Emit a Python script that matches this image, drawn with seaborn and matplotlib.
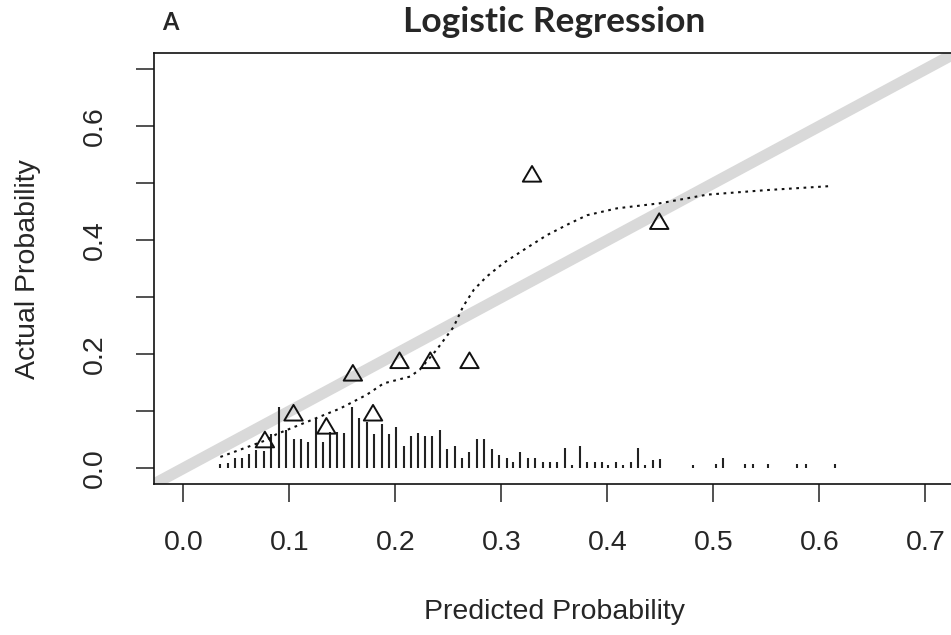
import matplotlib
matplotlib.use("Agg")
import matplotlib.pyplot as plt
import seaborn as sns
import pandas as pd
from matplotlib.path import Path

# grouped calibration points (triangles)
grp_pred = [0.077, 0.104, 0.135, 0.160, 0.179, 0.204, 0.233, 0.270, 0.329, 0.449]
grp_obs = [0.046, 0.093, 0.070, 0.163, 0.093, 0.185, 0.185, 0.185, 0.512, 0.429]

# smoothed calibration curve (dotted)
curve_pred = [0.035, 0.079, 0.088, 0.148, 0.173, 0.189, 0.214, 0.223, 0.239, 0.255,
              0.264, 0.274, 0.286, 0.302, 0.321, 0.343, 0.365, 0.381, 0.409, 0.450,
              0.494, 0.550, 0.610]
curve_obs = [0.020, 0.050, 0.060, 0.105, 0.129, 0.149, 0.161, 0.173, 0.208, 0.248,
             0.284, 0.313, 0.336, 0.360, 0.383, 0.409, 0.430, 0.444, 0.456, 0.465,
             0.480, 0.488, 0.495]

# spike histogram of predicted probabilities
spike_x = [0.035, 0.042, 0.049, 0.055, 0.062, 0.069, 0.076, 0.083, 0.090, 0.097,
           0.104, 0.111, 0.118, 0.125, 0.132, 0.138, 0.145, 0.152, 0.159, 0.166,
           0.173, 0.180, 0.187, 0.194, 0.201, 0.208, 0.215, 0.221, 0.228, 0.235,
           0.242, 0.249, 0.256, 0.263, 0.270, 0.277, 0.284, 0.291, 0.298, 0.305,
           0.311, 0.318, 0.325, 0.332, 0.339, 0.346, 0.353, 0.360, 0.367, 0.374,
           0.381, 0.388, 0.395, 0.401, 0.408, 0.415, 0.422, 0.429, 0.436, 0.443,
           0.450, 0.481, 0.503, 0.509, 0.530, 0.537, 0.552, 0.579, 0.587, 0.615]
spike_h = [0.007, 0.009, 0.018, 0.019, 0.025, 0.033, 0.030, 0.060, 0.107, 0.067,
           0.052, 0.052, 0.046, 0.089, 0.046, 0.063, 0.063, 0.062, 0.107, 0.089,
           0.082, 0.061, 0.077, 0.061, 0.072, 0.040, 0.056, 0.062, 0.056, 0.056,
           0.068, 0.034, 0.040, 0.018, 0.029, 0.051, 0.052, 0.034, 0.024, 0.018,
           0.012, 0.029, 0.018, 0.018, 0.012, 0.012, 0.012, 0.035, 0.006, 0.040,
           0.012, 0.012, 0.012, 0.006, 0.012, 0.006, 0.012, 0.035, 0.006, 0.015,
           0.017, 0.006, 0.008, 0.019, 0.008, 0.008, 0.008, 0.008, 0.008, 0.008]

x_ticks = [0.0, 0.1, 0.2, 0.3, 0.4, 0.5, 0.6, 0.7]
x_labels = ["0.0", "0.1", "0.2", "0.3", "0.4", "0.5", "0.6", "0.7"]
y_ticks = [0.0, 0.1, 0.2, 0.3, 0.4, 0.5, 0.6, 0.7]
y_labels = ["0.0", "", "0.2", "", "0.4", "", "0.6", ""]

sns.set_style("white")
plt.rcParams['font.family'] = ['Liberation Sans', 'DejaVu Sans']

fig = plt.figure(figsize=(9.51, 6.35), dpi=100)
ax = fig.add_axes([0.1615, 0.2373, 0.8427, 0.6788])

# ideal line
ax.axline((0, 0), slope=1, color='#d9d9d9', lw=8.2, zorder=1, solid_capstyle='butt')

# spike histogram
ax.vlines(spike_x, 0, spike_h, color='#222222', lw=1.5, zorder=2)

# grouped points, open triangle with centroid on the data point
tri = Path([(0, 1.0), (-0.883, -0.5), (0.883, -0.5), (0, 1.0)],
           [Path.MOVETO, Path.LINETO, Path.LINETO, Path.CLOSEPOLY])
pts = pd.DataFrame({'pred': grp_pred, 'obs': grp_obs})
sns.scatterplot(data=pts, x='pred', y='obs', marker=tri, s=225,
                facecolor='none', edgecolor='#111111', linewidth=1.4, ax=ax, zorder=4)

# smoothed curve
crv = pd.DataFrame({'pred': curve_pred, 'obs': curve_obs})
sns.lineplot(data=crv, x='pred', y='obs', color='#111111', lw=1.5,
             linestyle=(0, (1.3, 2.2)), sort=False, ax=ax, zorder=3)

ax.set_xlim(-0.028, 0.728)
ax.set_ylim(-0.028, 0.728)
ax.set_xticks(x_ticks, x_labels)
ax.set_yticks(y_ticks, y_labels)
ax.tick_params(axis='both', direction='out', length=13, width=1.1,
               color='#222222', labelsize=20.5, pad=20, bottom=True, left=True)
ax.tick_params(axis='y', labelrotation=90)
for lab in ax.get_yticklabels():
    lab.set_va('center')
for sp in ax.spines.values():
    sp.set_color('#111111')
    sp.set_linewidth(1.2)

ax.set_xlabel('Predicted Probability', fontsize=20.5)
ax.set_ylabel('Actual Probability', fontsize=20.5)
ax.xaxis.set_label_coords(0.5, -0.296)
ax.xaxis.label.set_va('center')
ax.yaxis.set_label_coords(-0.1567, 0.5)
ax.yaxis.label.set_va('center')

fig.text(554 / 951, 1 - 22 / 635, 'Logistic Regression', ha='center', va='center',
         fontsize=25.5, fontweight='bold', family=['Lato', 'DejaVu Sans'])
fig.text(170 / 951, 1 - 22 / 635, 'A', ha='center', va='center',
         fontsize=17, fontweight='bold', family=['Lato', 'DejaVu Sans'])

fig.savefig('out.png', dpi=100)
plt.close(fig)
